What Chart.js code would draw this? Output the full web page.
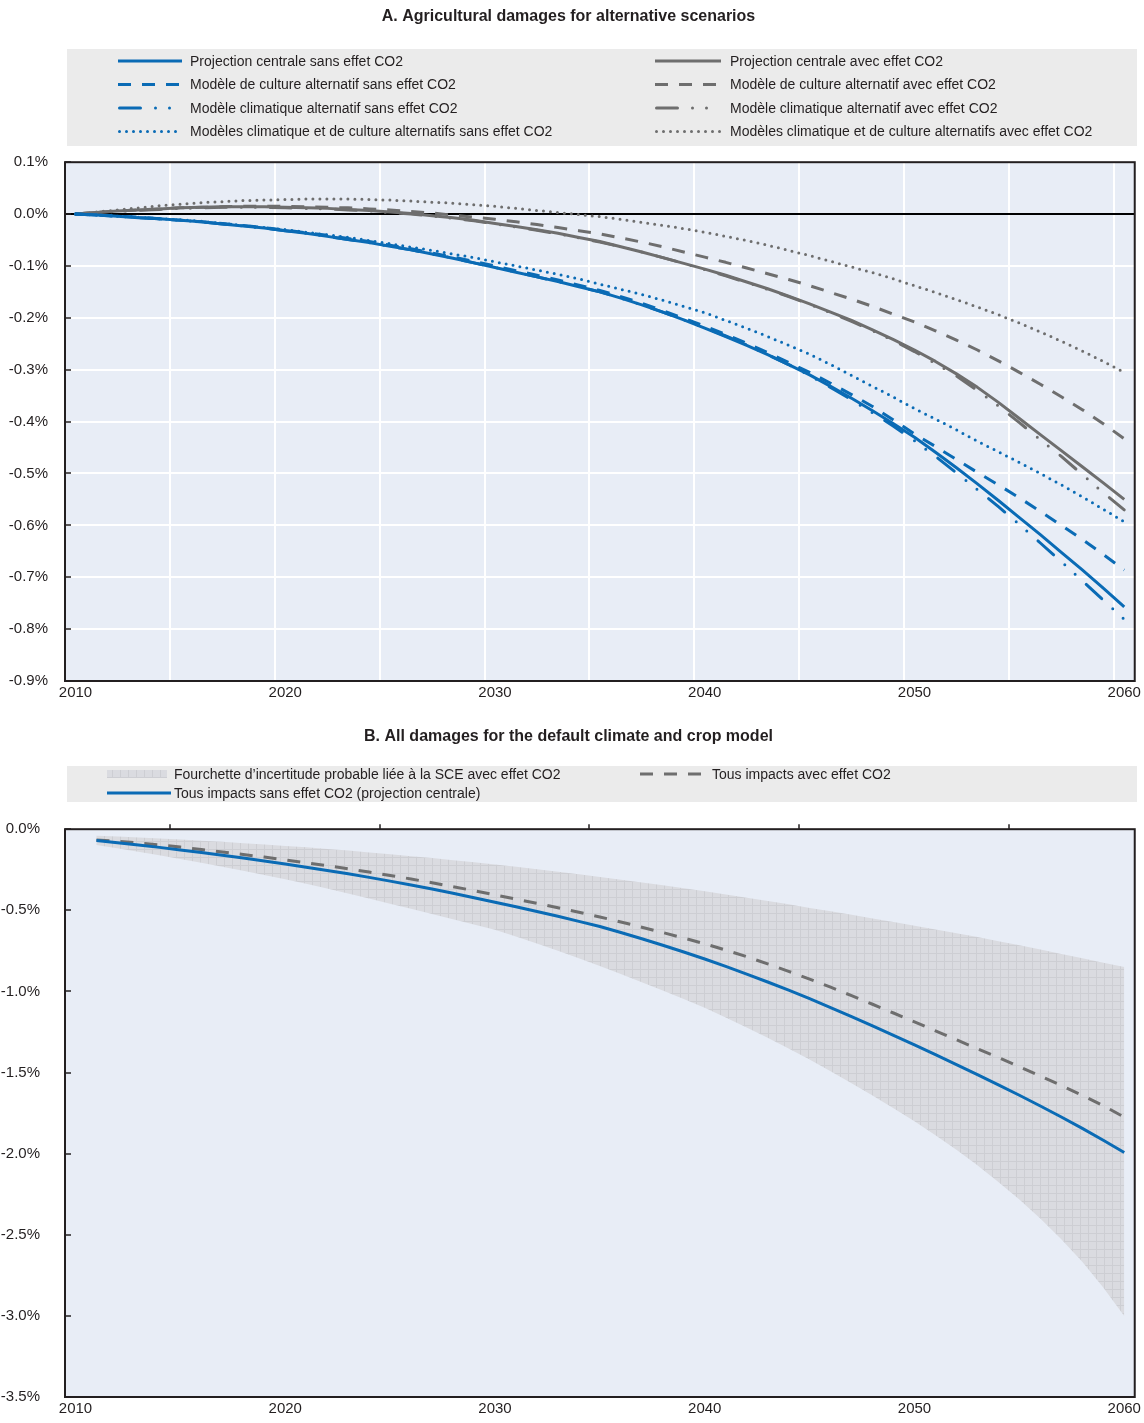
<!DOCTYPE html>
<html><head><meta charset="utf-8">
<script src="https://cdn.jsdelivr.net/npm/chart.js@4.4.1/dist/chart.umd.min.js"></script>
<style>
html,body{margin:0;padding:0;background:#fff;}
canvas{display:block;}
</style></head>
<body>
<canvas id="cA" width="1144" height="721"></canvas>
<canvas id="cB" width="1144" height="702"></canvas>
<script>
// ---------- categories & tick labels ----------
const years = ['2010','2011','2012','2013','2014','2015','2016','2017','2018','2019',
 '2020','2021','2022','2023','2024','2025','2026','2027','2028','2029',
 '2030','2031','2032','2033','2034','2035','2036','2037','2038','2039',
 '2040','2041','2042','2043','2044','2045','2046','2047','2048','2049',
 '2050','2051','2052','2053','2054','2055','2056','2057','2058','2059','2060'];
const xTickLabels = ['2010','2020','2030','2040','2050','2060'];

// ---------- Panel A series (2010-2060, % deviation) ----------
const blueCentral = [0,-0.002,-0.004,-0.007,-0.009,-0.012,-0.015,-0.019,-0.023,-0.027,
 -0.032,-0.037,-0.043,-0.049,-0.055,-0.062,-0.069,-0.077,-0.085,-0.094,
 -0.103,-0.112,-0.121,-0.130,-0.140,-0.150,-0.162,-0.175,-0.189,-0.204,
 -0.220,-0.236,-0.253,-0.271,-0.290,-0.310,-0.332,-0.355,-0.379,-0.404,
 -0.430,-0.459,-0.489,-0.520,-0.552,-0.585,-0.618,-0.652,-0.686,-0.721,-0.757];
const blueCrop = [0,-0.002,-0.004,-0.006,-0.009,-0.012,-0.015,-0.018,-0.022,-0.026,
 -0.031,-0.036,-0.041,-0.047,-0.053,-0.060,-0.067,-0.075,-0.083,-0.091,
 -0.100,-0.109,-0.118,-0.127,-0.137,-0.147,-0.159,-0.172,-0.186,-0.201,
 -0.216,-0.232,-0.249,-0.267,-0.286,-0.305,-0.326,-0.348,-0.371,-0.397,
 -0.424,-0.448,-0.473,-0.498,-0.522,-0.547,-0.573,-0.600,-0.627,-0.656,-0.686];
const blueClimate = [0,-0.002,-0.004,-0.007,-0.009,-0.012,-0.015,-0.019,-0.023,-0.027,
 -0.032,-0.037,-0.043,-0.049,-0.055,-0.062,-0.069,-0.077,-0.085,-0.094,
 -0.103,-0.112,-0.121,-0.130,-0.140,-0.150,-0.162,-0.175,-0.189,-0.204,
 -0.219,-0.235,-0.252,-0.271,-0.290,-0.311,-0.334,-0.358,-0.383,-0.409,
 -0.437,-0.467,-0.499,-0.531,-0.564,-0.598,-0.634,-0.670,-0.707,-0.744,-0.781];
const blueBoth = [0,-0.002,-0.004,-0.006,-0.009,-0.011,-0.014,-0.018,-0.022,-0.026,
 -0.030,-0.035,-0.040,-0.045,-0.051,-0.057,-0.064,-0.070,-0.077,-0.084,
 -0.092,-0.100,-0.108,-0.116,-0.125,-0.135,-0.145,-0.155,-0.166,-0.178,
 -0.190,-0.205,-0.220,-0.236,-0.253,-0.270,-0.290,-0.311,-0.332,-0.353,
 -0.375,-0.395,-0.416,-0.438,-0.458,-0.479,-0.500,-0.522,-0.545,-0.569,-0.593];
const grayCentral = [0,0.003,0.006,0.008,0.010,0.012,0.013,0.014,0.014,0.014,
 0.013,0.012,0.011,0.009,0.007,0.004,0.001,-0.003,-0.007,-0.012,
 -0.018,-0.024,-0.030,-0.037,-0.045,-0.053,-0.063,-0.073,-0.084,-0.095,
 -0.106,-0.118,-0.131,-0.144,-0.158,-0.173,-0.189,-0.205,-0.223,-0.242,
 -0.262,-0.284,-0.308,-0.334,-0.363,-0.394,-0.425,-0.456,-0.487,-0.518,-0.550];
const grayCrop = [0,0.003,0.006,0.008,0.010,0.012,0.013,0.014,0.015,0.015,
 0.015,0.014,0.013,0.012,0.010,0.008,0.005,0.002,-0.002,-0.006,
 -0.010,-0.015,-0.020,-0.026,-0.032,-0.038,-0.046,-0.054,-0.063,-0.073,
 -0.083,-0.093,-0.104,-0.115,-0.126,-0.138,-0.151,-0.164,-0.178,-0.193,
 -0.208,-0.225,-0.243,-0.262,-0.283,-0.305,-0.328,-0.352,-0.377,-0.404,-0.433];
const grayClimate = [0,0.003,0.005,0.007,0.009,0.011,0.012,0.013,0.013,0.013,
 0.012,0.011,0.010,0.008,0.006,0.003,0.000,-0.004,-0.008,-0.013,
 -0.019,-0.025,-0.031,-0.038,-0.046,-0.054,-0.063,-0.073,-0.084,-0.095,
 -0.107,-0.119,-0.132,-0.145,-0.159,-0.174,-0.190,-0.207,-0.225,-0.244,
 -0.265,-0.288,-0.312,-0.340,-0.370,-0.402,-0.435,-0.467,-0.502,-0.537,-0.570];
const grayBoth = [0,0.004,0.008,0.012,0.016,0.019,0.022,0.024,0.026,0.027,
 0.028,0.029,0.029,0.029,0.028,0.027,0.025,0.023,0.021,0.018,
 0.015,0.011,0.007,0.003,-0.001,-0.005,-0.010,-0.016,-0.022,-0.028,
 -0.035,-0.043,-0.051,-0.060,-0.070,-0.080,-0.091,-0.102,-0.113,-0.125,
 -0.138,-0.151,-0.165,-0.179,-0.194,-0.210,-0.227,-0.245,-0.264,-0.284,-0.305];

// ---------- Panel B series (2011-2060, % deviation) ----------
const allSansCO2 = [-0.070,-0.083,-0.097,-0.112,-0.128,-0.144,-0.161,-0.178,-0.196,
 -0.215,-0.234,-0.254,-0.275,-0.297,-0.320,-0.344,-0.369,-0.395,-0.422,
 -0.450,-0.478,-0.507,-0.537,-0.568,-0.600,-0.637,-0.675,-0.715,-0.757,
 -0.800,-0.846,-0.893,-0.942,-0.992,-1.045,-1.100,-1.156,-1.213,-1.271,
 -1.330,-1.390,-1.451,-1.513,-1.576,-1.640,-1.706,-1.774,-1.844,-1.917,-1.993];
const allAvecCO2 = [-0.066,-0.075,-0.085,-0.097,-0.110,-0.125,-0.140,-0.156,-0.172,
 -0.189,-0.207,-0.225,-0.244,-0.264,-0.285,-0.307,-0.330,-0.354,-0.379,
 -0.405,-0.431,-0.457,-0.484,-0.512,-0.541,-0.572,-0.604,-0.637,-0.671,
 -0.706,-0.745,-0.786,-0.830,-0.876,-0.924,-0.974,-1.026,-1.079,-1.133,
 -1.188,-1.243,-1.298,-1.353,-1.408,-1.464,-1.521,-1.580,-1.640,-1.704,-1.775];
const bandUpper = [-0.040,-0.045,-0.051,-0.057,-0.064,-0.071,-0.078,-0.086,-0.094,
 -0.103,-0.112,-0.122,-0.132,-0.143,-0.154,-0.166,-0.178,-0.191,-0.204,
 -0.218,-0.232,-0.247,-0.262,-0.278,-0.294,-0.311,-0.328,-0.346,-0.364,
 -0.383,-0.402,-0.422,-0.442,-0.463,-0.485,-0.506,-0.528,-0.550,-0.572,
 -0.595,-0.618,-0.641,-0.665,-0.690,-0.715,-0.742,-0.769,-0.796,-0.823,-0.850];
const bandLower = [-0.098,-0.118,-0.139,-0.161,-0.184,-0.207,-0.231,-0.256,-0.282,
 -0.309,-0.337,-0.366,-0.396,-0.427,-0.459,-0.491,-0.523,-0.555,-0.587,
 -0.620,-0.662,-0.705,-0.749,-0.795,-0.843,-0.892,-0.943,-0.995,-1.047,
 -1.100,-1.161,-1.223,-1.286,-1.352,-1.420,-1.492,-1.566,-1.642,-1.720,
 -1.800,-1.886,-1.976,-2.072,-2.174,-2.283,-2.400,-2.528,-2.667,-2.825,-3.000];

// ---------- styles ----------
const FONT = '"Liberation Sans", Arial, Helvetica, sans-serif';
const BLUE = '#0a6bb5', GRAY = '#6e6e6e', PLOT_BG = '#e8edf6', LEG_BG = '#ebebeb', INK = '#231f20';
const DASH = [13, 11], DASHDOT = [21, 15, 0, 14, 0, 15], DOT = [0, 7];

function bandPattern() {
  const c = document.createElement('canvas'); c.width = 8; c.height = 8;
  const g = c.getContext('2d');
  g.fillStyle = '#dadbe0'; g.fillRect(0, 0, 8, 8);
  g.fillStyle = '#cdced3'; g.fillRect(0, 0, 8, 1); g.fillRect(0, 0, 1, 8);
  return g.createPattern(c, 'repeat');
}

const framePlugin = {
  id: 'frame',
  beforeDraw(chart) {
    const {left, top, right, bottom} = chart.chartArea;
    const ctx = chart.ctx; ctx.save();
    ctx.fillStyle = PLOT_BG; ctx.fillRect(left, top, right - left, bottom - top);
    ctx.restore();
  },
  afterDraw(chart, args, opts) {
    const {left, top, right, bottom} = chart.chartArea;
    const ctx = chart.ctx; ctx.save();
    ctx.strokeStyle = INK; ctx.lineWidth = 2;
    ctx.strokeRect(left, top, right - left, bottom - top);
    ctx.lineWidth = 1.5;
    const ys = chart.scales.y;
    ys.ticks.forEach(t => {
      const py = Math.round(ys.getPixelForValue(t.value));
      ctx.beginPath(); ctx.moveTo(left, py); ctx.lineTo(left + 6, py); ctx.stroke();
    });
    if (opts.topTicks) {
      const xs = chart.scales.x;
      const step = (xs.getPixelForTick(1) - xs.getPixelForTick(0));
      for (let i = 5; i < years.length; i += 10) {
        const px = Math.round(xs.getPixelForTick(i) - step / 2);
        ctx.beginPath(); ctx.moveTo(px, top); ctx.lineTo(px, top - 5); ctx.stroke();
      }
    }
    ctx.restore();
  }
};

const legendPlugin = {
  id: 'boxLegend',
  afterDraw(chart, args, opts) {
    const ctx = chart.ctx; ctx.save();
    const b = opts.box;
    ctx.fillStyle = LEG_BG; ctx.fillRect(b[0], b[1], b[2] - b[0], b[3] - b[1]);
    opts.items.forEach(it => {
      const ds = chart.data.datasets[it.ds];
      if (it.band) {
        ctx.fillStyle = ds.backgroundColor;
        ctx.fillRect(it.x, it.y - 4, it.w, 8);
      } else {
        ctx.beginPath();
        ctx.setLineDash(ds.borderDash || []);
        ctx.lineCap = ds.borderCapStyle || 'butt';
        ctx.lineWidth = ds.borderWidth; ctx.strokeStyle = ds.borderColor;
        const capPad = (ds.borderCapStyle === 'round') ? 1.5 : 0;
        ctx.moveTo(it.x + capPad, it.y); ctx.lineTo(it.x + it.w, it.y); ctx.stroke();
        ctx.setLineDash([]);
      }
      ctx.fillStyle = INK; ctx.font = '14px ' + FONT;
      ctx.textAlign = 'left'; ctx.textBaseline = 'middle';
      ctx.fillText(ds.label, it.tx, it.y + 1);
    });
    ctx.restore();
  }
};

function lineDs(label, data, color, dash, cap) {
  return { label, data, borderColor: color, backgroundColor: color, borderWidth: 3,
    borderDash: dash || [], borderCapStyle: cap || 'butt', borderJoinStyle: 'round',
    pointRadius: 0, tension: 0, fill: false };
}

function xScale(height, pad, showGrid) {
  return {
    type: 'category', offset: true,
    grid: { offset: true, drawTicks: false,
      color: c => (showGrid && c.index % 5 === 0 && c.index > 0 && c.index < years.length) ? '#ffffff' : 'rgba(0,0,0,0)',
      lineWidth: 2 },
    border: { display: false },
    ticks: { autoSkip: false, maxRotation: 0, minRotation: 0, padding: pad,
      color: INK, font: { family: FONT, size: 15 },
      callback: function (v) { const l = this.getLabelForValue(v); return xTickLabels.includes(l) ? l : ''; } },
    afterFit: s => { s.height = height; }
  };
}

Chart.defaults.font.family = FONT;

// ---------- Panel A ----------
new Chart(document.getElementById('cA'), {
  type: 'line',
  data: { labels: years, datasets: [
    lineDs('Projection centrale sans effet CO2', blueCentral, BLUE),
    lineDs('Modèle de culture alternatif sans effet CO2', blueCrop, BLUE, DASH),
    lineDs('Modèle climatique alternatif sans effet CO2', blueClimate, BLUE, DASHDOT, 'round'),
    lineDs('Modèles climatique et de culture alternatifs sans effet CO2', blueBoth, BLUE, DOT, 'round'),
    lineDs('Projection centrale avec effet CO2', grayCentral, GRAY),
    lineDs('Modèle de culture alternatif avec effet CO2', grayCrop, GRAY, DASH),
    lineDs('Modèle climatique alternatif avec effet CO2', grayClimate, GRAY, DASHDOT, 'round'),
    lineDs('Modèles climatique et de culture alternatifs avec effet CO2', grayBoth, GRAY, DOT, 'round')
  ]},
  options: {
    responsive: false, animation: false, devicePixelRatio: 1,
    layout: { padding: { left: 0, right: 7, top: 0, bottom: 0 } },
    scales: {
      x: xScale(40, 3, true),
      y: { min: -0.9, max: 0.1,
        ticks: { stepSize: 0.1, padding: 17, color: INK, font: { family: FONT, size: 15 },
          callback: v => (Math.abs(v) < 1e-9 ? 0 : v).toFixed(1) + '%' },
        grid: { drawTicks: false, lineWidth: 2,
          color: c => (c.tick && Math.abs(c.tick.value) < 1e-9) ? '#000000' : '#ffffff' },
        border: { display: false },
        afterFit: s => { s.width = 65; } }
    },
    plugins: {
      legend: { display: false }, tooltip: { enabled: false },
      title: { display: true, text: 'A. Agricultural damages for alternative scenarios', color: INK,
        font: { family: FONT, size: 16, weight: 'bold' }, padding: { top: 7, bottom: 136 } },
      boxLegend: { box: [67, 49, 1137, 146], items: [
        { ds: 0, x: 118, w: 64, tx: 190, y: 61 },
        { ds: 1, x: 118, w: 64, tx: 190, y: 84.5 },
        { ds: 2, x: 118, w: 64, tx: 190, y: 108 },
        { ds: 3, x: 118, w: 64, tx: 190, y: 131.5 },
        { ds: 4, x: 655, w: 66, tx: 730, y: 61 },
        { ds: 5, x: 655, w: 66, tx: 730, y: 84.5 },
        { ds: 6, x: 655, w: 66, tx: 730, y: 108 },
        { ds: 7, x: 655, w: 66, tx: 730, y: 131.5 }
      ]},
      frame: { topTicks: false }
    }
  },
  plugins: [framePlugin, legendPlugin]
});

// ---------- Panel B ----------
const withNull = a => [null].concat(a);
new Chart(document.getElementById('cB'), {
  type: 'line',
  data: { labels: years, datasets: [
    lineDs('Tous impacts sans effet CO2 (projection centrale)', withNull(allSansCO2), BLUE),
    lineDs('Tous impacts avec effet CO2', withNull(allAvecCO2), GRAY, DASH),
    { label: 'Fourchette d\u2019incertitude probable liée à la SCE avec effet CO2', data: withNull(bandUpper),
      borderWidth: 0, borderColor: 'rgba(0,0,0,0)', backgroundColor: bandPattern(), pointRadius: 0, fill: '+1' },
    { label: 'band lower', data: withNull(bandLower), borderWidth: 0, borderColor: 'rgba(0,0,0,0)',
      backgroundColor: 'rgba(0,0,0,0)', pointRadius: 0, fill: false }
  ]},
  options: {
    responsive: false, animation: false, devicePixelRatio: 1,
    layout: { padding: { left: 0, right: 7, top: 0, bottom: 0 } },
    scales: {
      x: xScale(20, 3, false),
      y: { min: -3.5, max: 0,
        ticks: { stepSize: 0.5, padding: 17, color: INK, font: { family: FONT, size: 15 },
          callback: v => (Math.abs(v) < 1e-9 ? 0 : v).toFixed(1) + '%' },
        grid: { display: false },
        border: { display: false },
        afterFit: s => { s.width = 65; } }
    },
    plugins: {
      legend: { display: false }, tooltip: { enabled: false },
      title: { display: true, text: 'B. All damages for the default climate and crop model', color: INK,
        font: { family: FONT, size: 16, weight: 'bold' }, padding: { top: 6, bottom: 83 } },
      boxLegend: { box: [67, 45, 1137, 81], items: [
        { ds: 2, band: true, x: 107, w: 60, tx: 174, y: 53 },
        { ds: 0, x: 107, w: 64, tx: 174, y: 72 },
        { ds: 1, x: 640, w: 66, tx: 712, y: 53 }
      ]},
      frame: { topTicks: true }
    }
  },
  plugins: [framePlugin, legendPlugin]
});
</script>
</body></html>
